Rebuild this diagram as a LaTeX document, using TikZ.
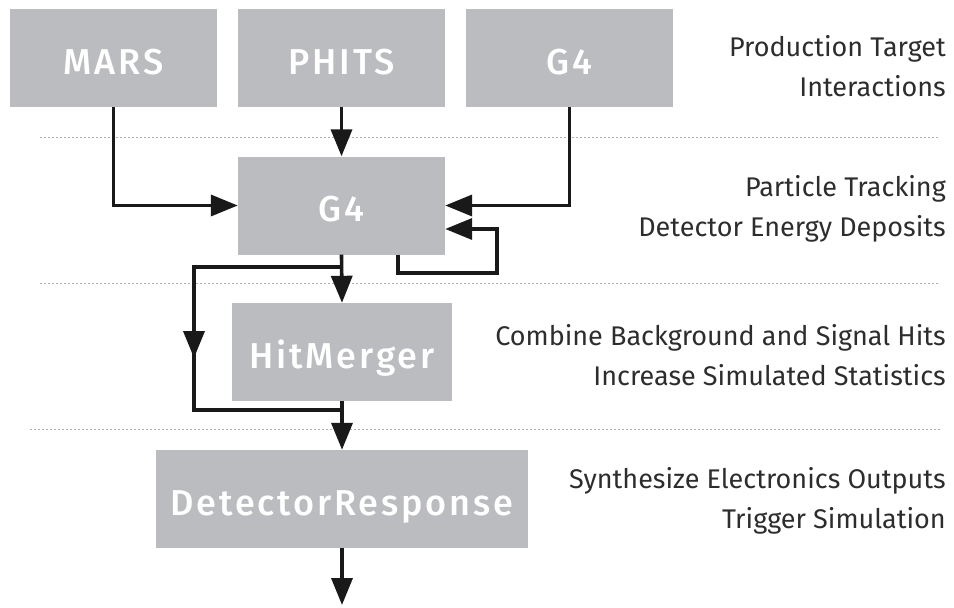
\documentclass[tikz,border=0pt]{standalone}
\usepackage{fontspec}
\setmainfont{Fira Sans}
\newfontfamily\boxfont{Fira Sans Medium}[LetterSpace=8]
\usetikzlibrary{arrows.meta}
\definecolor{boxgrey}{RGB}{187,188,192}
\definecolor{txtgrey}{RGB}{45,45,45}
\definecolor{sepgrey}{RGB}{175,175,175}
\definecolor{arrowblack}{RGB}{25,25,25}
\begin{document}
\begin{tikzpicture}[x=1pt,y=-1pt,
  box/.style={fill=boxgrey,draw=none,inner sep=0pt,text=white,font=\boxfont\fontsize{36}{40}\selectfont,minimum height=98pt,text height=32pt,text depth=0pt},
  desc/.style={text=txtgrey,font=\fontsize{27}{40}\selectfont,align=right,anchor=east,inner sep=0pt},
  sep/.style={draw=sepgrey,line width=0.8pt,dash pattern=on 2pt off 2pt},
  arr/.style={draw=arrowblack,line width=3.6pt,-{Triangle[width=21pt,length=27pt]}},
  ln/.style={draw=arrowblack,line width=3.6pt}]
\useasboundingbox (0,0) rectangle (954,608);
\draw[sep] (40,137) -- (940,137);
\draw[sep] (40,283) -- (940,283);
\draw[sep] (30,429) -- (940,429);
\node[box,minimum width=207pt] (mars) at (113.5,58) {MARS};
\node[box,minimum width=207pt] (phits) at (341.5,58) {PHITS};
\node[box,minimum width=207pt] (g4top) at (569.5,58) {G4};
\node[box,minimum width=207pt] (g4) at (341.5,205.5) {G4};
\node[box,minimum width=220pt] (hm) at (342,352) {HitMerger};
\node[box,minimum width=372pt] (dr) at (342,499) {DetectorResponse};
\coordinate (out) at (342,605);
\node[desc] (d1) at (946,66) {Production Target\\Interactions};
\node[desc] (d2) at (946,209) {Particle Tracking\\Detector Energy Deposits};
\node[desc] (d3) at (946,355) {Combine Background and Signal Hits\\Increase Simulated Statistics};
\node[desc] (d4) at (946,501) {Synthesize Electronics Outputs\\Trigger Simulation};
\draw[arr] (mars.south) |- (g4.west);
\draw[arr] (phits.south) -- (g4.north);
\draw[arr] (g4top.south) |- (g4.east);
\draw[arr] ([xshift=56.5pt]g4.south) -- ++(0,18) -- ++(99,0) |- ([yshift=-23.5pt]g4.east);
\draw[arr] (g4.south) -- (hm.north);
\coordinate (byA) at (342,267);
\coordinate (byB) at (194,267);
\coordinate (byC) at (194,410);
\coordinate (byD) at (342,410);
\coordinate (byM) at (194,358);
\draw[ln] (byA) -- (byB) -- (byC) -- (byD);
\draw[arr] (byB) -- (byM);
\draw[arr] (hm.south) -- (dr.north);
\draw[arr] (dr.south) -- (out);
\end{tikzpicture}
\end{document}
